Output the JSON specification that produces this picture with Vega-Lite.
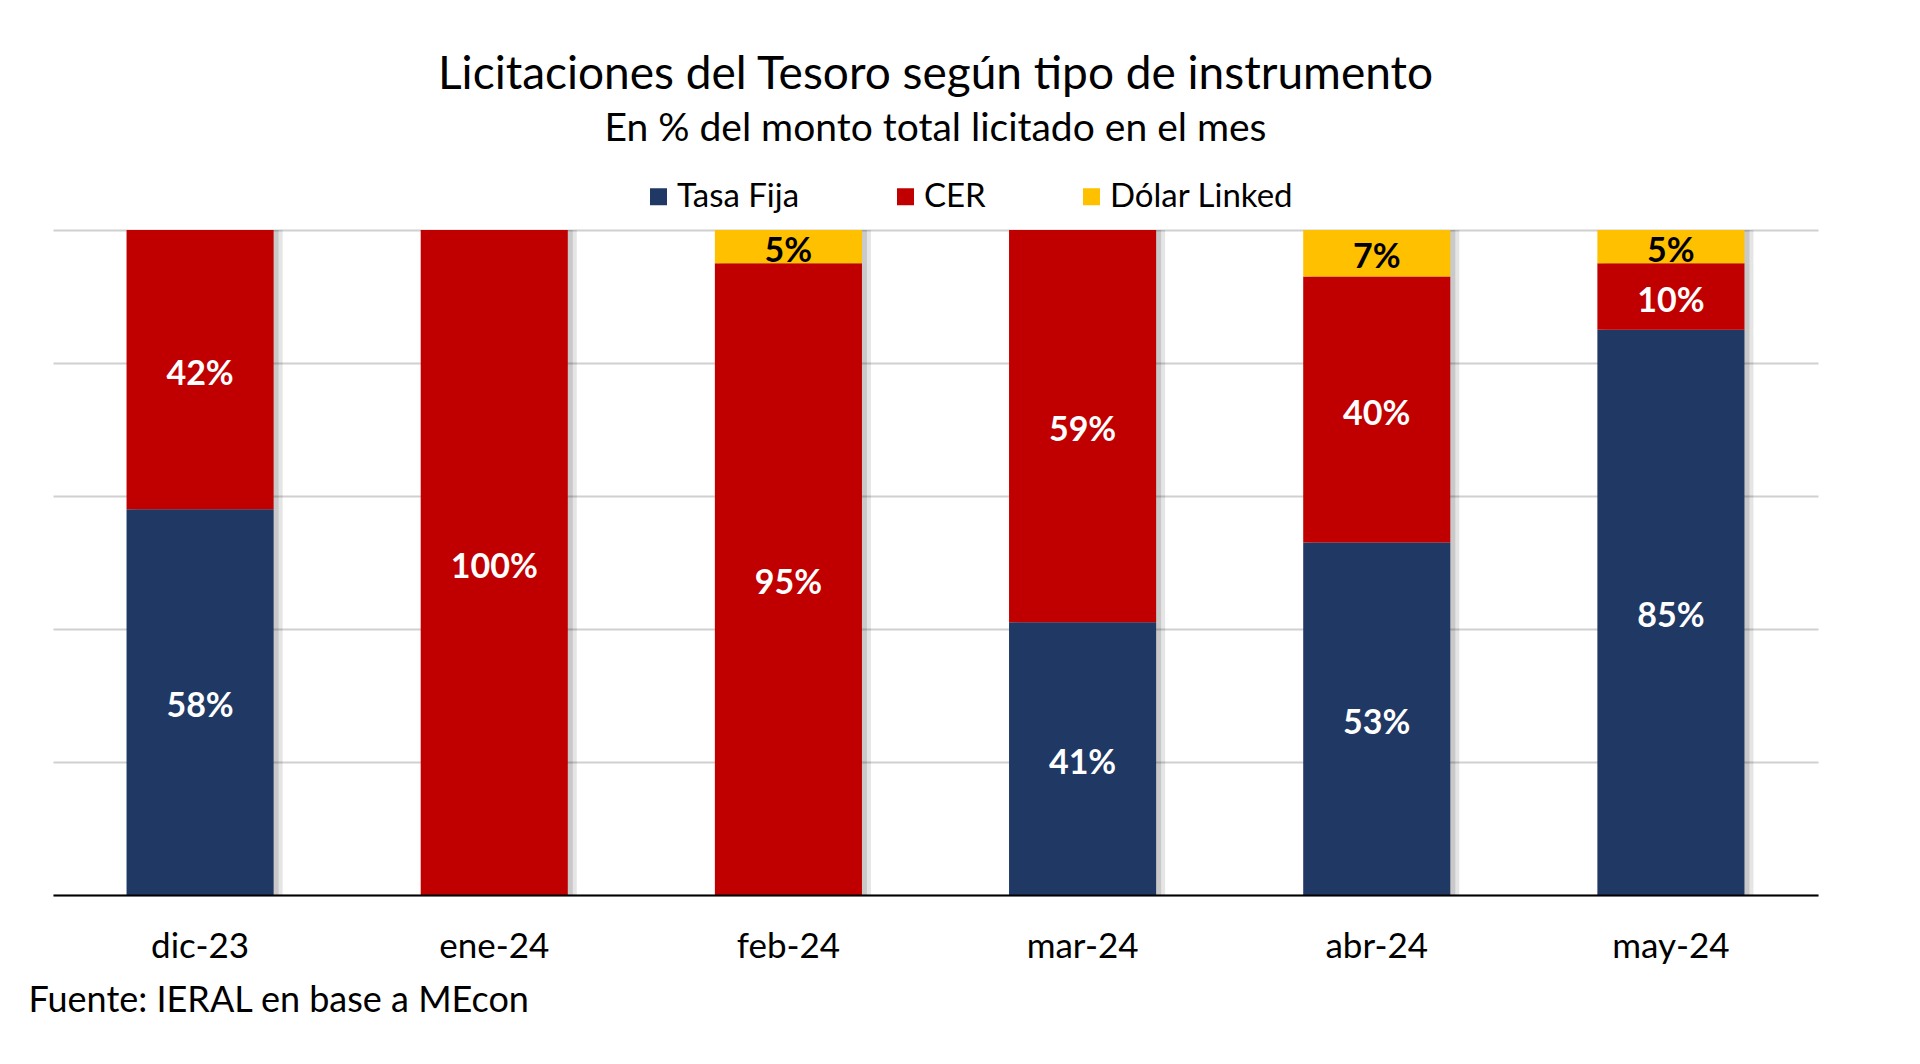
{
  "$schema": "https://vega.github.io/schema/vega-lite/v6.json",
  "width": 1765,
  "height": 665,
  "autosize": {"type": "none"},
  "padding": {"left": 53, "top": 230, "right": 102, "bottom": 169},
  "background": "white",
  "config": {
    "font": "Lato",
    "view": {"stroke": null},
    "axisY": {
      "title": null,
      "labels": false,
      "ticks": false,
      "domain": false,
      "grid": true,
      "gridColor": "#d0d0d0",
      "gridWidth": 2
    }
  },
  "title": {
    "text": "Licitaciones del Tesoro según tipo de instrumento",
    "subtitle": "En % del monto total licitado en el mes",
    "anchor": "middle",
    "font": "Lato",
    "fontSize": 46,
    "fontWeight": "normal",
    "color": "#000000",
    "subtitleFont": "Lato",
    "subtitleFontSize": 39,
    "subtitleColor": "#000000",
    "subtitlePadding": 11,
    "offset": 30
  },
  "data": {
    "values": [
      {"mes": "dic-23", "tipo": "Tasa Fija", "orden": 1, "valor": 58},
      {"mes": "dic-23", "tipo": "CER", "orden": 2, "valor": 42},
      {"mes": "ene-24", "tipo": "CER", "orden": 2, "valor": 100},
      {"mes": "feb-24", "tipo": "CER", "orden": 2, "valor": 95},
      {"mes": "feb-24", "tipo": "Dólar Linked", "orden": 3, "valor": 5},
      {"mes": "mar-24", "tipo": "Tasa Fija", "orden": 1, "valor": 41},
      {"mes": "mar-24", "tipo": "CER", "orden": 2, "valor": 59},
      {"mes": "abr-24", "tipo": "Tasa Fija", "orden": 1, "valor": 53},
      {"mes": "abr-24", "tipo": "CER", "orden": 2, "valor": 40},
      {"mes": "abr-24", "tipo": "Dólar Linked", "orden": 3, "valor": 7},
      {"mes": "may-24", "tipo": "Tasa Fija", "orden": 1, "valor": 85},
      {"mes": "may-24", "tipo": "CER", "orden": 2, "valor": 10},
      {"mes": "may-24", "tipo": "Dólar Linked", "orden": 3, "valor": 5}
    ]
  },
  "transform": [
    {"stack": "valor", "groupby": ["mes"], "sort": [{"field": "orden", "order": "ascending"}], "as": ["v0", "v1"]},
    {"calculate": "(datum.v0 + datum.v1) / 2", "as": "mid"},
    {"calculate": "datum.valor + '%'", "as": "etiqueta"}
  ],
  "encoding": {
    "x": {
      "field": "mes",
      "type": "nominal",
      "sort": ["dic-23", "ene-24", "feb-24", "mar-24", "abr-24", "may-24"],
      "scale": {"paddingInner": 0.5, "paddingOuter": 0.25},
      "axis": {
        "title": "Fuente: IERAL en base a MEcon",
        "titleFont": "Lato",
        "titleFontSize": 36,
        "titleFontWeight": "normal",
        "titleColor": "#000000",
        "titleAnchor": "start",
        "titleAlign": "left",
        "titleBaseline": "middle",
        "titleX": -25,
        "titleY": 105,
        "labelAngle": 0,
        "labelFont": "Lato",
        "labelFontSize": 35,
        "labelColor": "#000000",
        "labelPadding": 34,
        "ticks": false,
        "domainColor": "#000000",
        "domainWidth": 2,
        "zindex": 1
      }
    },
    "y": {
      "field": "v0",
      "type": "quantitative",
      "scale": {"domain": [0, 100]},
      "axis": {"values": [0, 20, 40, 60, 80, 100]}
    },
    "y2": {"field": "v1"}
  },
  "layer": [
    {
      "mark": {"type": "bar", "color": "#000000", "opacity": 0.1, "xOffset": 9}
    },
    {
      "mark": {"type": "bar", "color": "#000000", "opacity": 0.12, "xOffset": 5}
    },
    {
      "mark": {"type": "bar"},
      "encoding": {
        "color": {
          "field": "tipo",
          "type": "nominal",
          "scale": {
            "domain": ["Tasa Fija", "CER", "Dólar Linked"],
            "range": ["#1F3864", "#C00000", "#FFC000"]
          },
          "legend": {
            "title": null,
            "orient": "none",
            "direction": "horizontal",
            "legendX": 589,
            "legendY": -50,
            "symbolType": "square",
            "symbolSize": 289,
            "symbolStrokeWidth": 0,
            "labelFont": "Lato",
            "labelFontSize": 33,
            "labelColor": "#000000",
            "labelOffset": 2,
            "labelLimit": 500,
            "columnPadding": 89,
            "padding": 0
          }
        }
      }
    },
    {
      "mark": {"type": "text", "font": "Lato", "fontWeight": "bold", "fontSize": 34, "baseline": "middle", "align": "center", "dy": 5},
      "encoding": {
        "y": {"field": "mid", "type": "quantitative"},
        "y2": null,
        "text": {"field": "etiqueta"},
        "color": {
          "condition": {"test": "datum.tipo == 'Dólar Linked'", "value": "#000000"},
          "value": "#ffffff"
        }
      }
    }
  ]
}
